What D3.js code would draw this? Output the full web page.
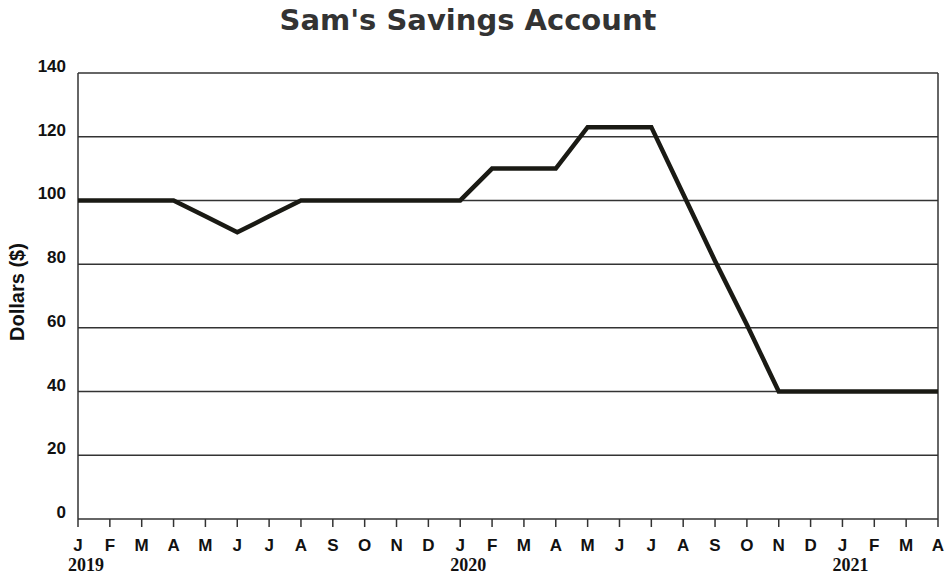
<!DOCTYPE html>
<html>
<head>
<meta charset="utf-8">
<script src="https://cdn.jsdelivr.net/npm/d3@7"></script>
<style>
  body { margin: 0; background: #fff; }
  svg { display: block; }
  .narrow { font-family: 'Liberation Sans Narrow', 'Arial Narrow', 'Liberation Sans', sans-serif; font-weight: bold; fill: #111; }
</style>
</head>
<body>
<svg id="chart" width="947" height="576"></svg>
<script>
// month initials, Jan 2019 .. Apr 2021
const months = ['J','F','M','A','M','J','J','A','S','O','N','D',
                'J','F','M','A','M','J','J','A','S','O','N','D',
                'J','F','M','A'];
const years = [{ label: '2019', idx: 0 }, { label: '2020', idx: 12 }, { label: '2021', idx: 24 }];
const balance = [100, 100, 100, 100, 95, 90, 95, 100, 100, 100, 100, 100,
                 100, 110, 110, 110, 123, 123, 123, 102, 81, 61, 40, 40,
                 40, 40, 40, 40];
const yTicks = [0, 20, 40, 60, 80, 100, 120, 140];

const W = 947, H = 576;
const m = { left: 78, right: 9, top: 73, bottom: 57 };
const svg = d3.select('#chart');

const x = d3.scaleLinear().domain([0, months.length - 1]).range([m.left, W - m.right]);
const y = d3.scaleLinear().domain([0, 140]).range([H - m.bottom, m.top]);

// title
svg.append('text')
  .attr('x', 468).attr('y', 30)
  .attr('text-anchor', 'middle')
  .attr('font-family', 'DejaVu Sans, sans-serif')
  .attr('font-weight', 'bold').attr('font-size', 29)
  .attr('fill', '#333')
  .text("Sam's Savings Account");

// gridlines
svg.append('g').selectAll('line').data(yTicks).enter().append('line')
  .attr('x1', m.left).attr('x2', W - m.right)
  .attr('y1', d => y(d)).attr('y2', d => y(d))
  .attr('stroke', '#333').attr('stroke-width', 1.5);

// frame sides
svg.append('line').attr('x1', m.left).attr('x2', m.left)
  .attr('y1', y(140)).attr('y2', y(0)).attr('stroke', '#333').attr('stroke-width', 1.5);
svg.append('line').attr('x1', W - m.right).attr('x2', W - m.right)
  .attr('y1', y(140)).attr('y2', y(0)).attr('stroke', '#333').attr('stroke-width', 1.5);

// y labels
svg.append('g').selectAll('text').data(yTicks).enter().append('text')
  .attr('class', 'narrow')
  .attr('x', 66).attr('y', d => y(d) - 1)
  .attr('text-anchor', 'end')
  .attr('font-size', 17)
  .text(d => d);

// y title
svg.append('text')
  .attr('class', 'narrow')
  .attr('transform', 'translate(24,292) rotate(-90)')
  .attr('text-anchor', 'middle')
  .attr('font-size', 20)
  .text('Dollars ($)');

// x ticks
const xg = svg.append('g');
xg.selectAll('line').data(months).enter().append('line')
  .attr('x1', (d, i) => x(i)).attr('x2', (d, i) => x(i))
  .attr('y1', y(0)).attr('y2', y(0) + 8)
  .attr('stroke', '#333').attr('stroke-width', 1.5);
xg.selectAll('text').data(months).enter().append('text')
  .attr('class', 'narrow')
  .attr('x', (d, i) => x(i)).attr('y', y(0) + 32)
  .attr('text-anchor', 'middle')
  .attr('font-size', 17)
  .text(d => d);

// year labels
svg.append('g').selectAll('text').data(years).enter().append('text')
  .attr('x', d => x(d.idx) - 10).attr('y', y(0) + 52)
  .attr('font-family', 'Liberation Serif, Times New Roman, serif')
  .attr('font-weight', 'bold').attr('font-size', 18)
  .attr('fill', '#111')
  .text(d => d.label);

// balance line
const line = d3.line().x((d, i) => x(i)).y(d => y(d));
svg.append('path').datum(balance)
  .attr('d', line)
  .attr('fill', 'none')
  .attr('stroke', '#1a1a14').attr('stroke-width', 4.5)
  .attr('stroke-linejoin', 'miter');
</script>
</body>
</html>
